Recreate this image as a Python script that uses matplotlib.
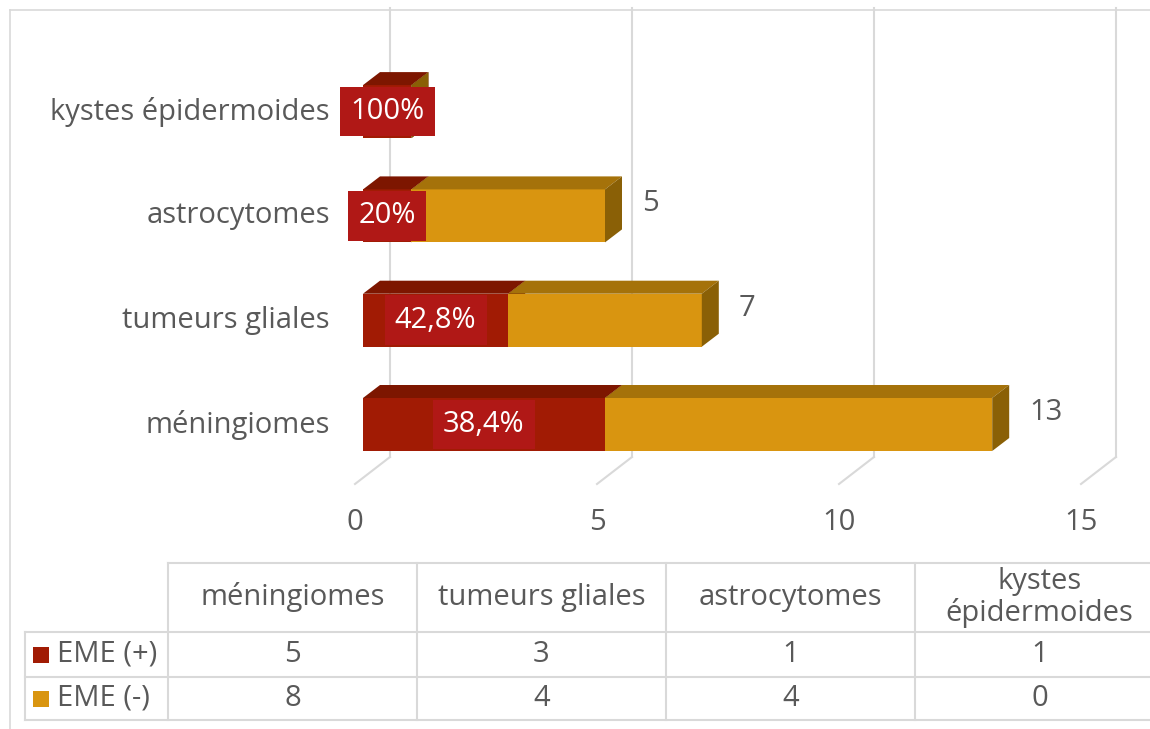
import matplotlib.pyplot as plt
from matplotlib.patches import Polygon

# ── données ──────────────────────────────────────────────────────────────
categories = ['méningiomes', 'tumeurs gliales', 'astrocytomes', 'kystes épidermoides']
eme_pos = [5, 3, 1, 1]
eme_neg = [8, 4, 4, 0]
pct_labels = ['38,4%', '42,8%', '20%', '100%']
x_ticks = [0, 5, 10, 15]
series_names = ['EME (+)', 'EME (-)']
table_headers = ['méningiomes', 'tumeurs gliales', 'astrocytomes', 'kystes\népidermoides']

# ── style ────────────────────────────────────────────────────────────────
RED = ('#A11B04', '#7D1600', '#6A1300')     # face, dessus, côté
GOLD = ('#D99510', '#A5720A', '#8A6006')
LABEL_BG = '#B01816'
TXT = '#595959'
GRID = '#D9D9D9'
FONT = 'Open Sans'
FS = 21

W, H = 1150, 729
fig = plt.figure(figsize=(W / 100, H / 100), dpi=100)

# axe plein cadre en pixels pour le tableau et le cadre
tb = fig.add_axes([0, 0, 1, 1])
tb.set_xlim(0, W)
tb.set_ylim(H, 0)
tb.axis('off')
tb.plot([10, W], [10, 10], color=GRID, lw=1.2)
tb.plot([10, 10], [10, H], color=GRID, lw=1.2)

# ── graphique 3D simulé ──────────────────────────────────────────────────
PX_X, PX_Y = 48.4, 104.3        # pixels par unité
X0, Y0 = 363, 424.5             # origine de la face avant
top_px, bot_px = 8, 490
ax = fig.add_axes([X0 / W, 1 - bot_px / H, 15 * PX_X / W, (bot_px - top_px) / H])
ax.set_xlim(0, 15)
ax.set_ylim((Y0 - bot_px) / PX_Y, (Y0 - top_px) / PX_Y)
ax.axis('off')

DX, DY = 17 / PX_X, 13 / PX_Y   # profondeur des barres
BH = 53 / PX_Y                  # épaisseur des barres
GDX = 27 / PX_X                 # plan du fond
FDX, FDY = -8 / PX_X, (Y0 - 484) / PX_Y
GY = (Y0 - 457) / PX_Y

# quadrillage : verticale au fond + diagonale du plancher
for v in x_ticks:
    ax.plot([v + GDX, v + GDX], [GY, ax.get_ylim()[1]], color=GRID, lw=1.5, clip_on=False, zorder=0)
    ax.plot([v + GDX, v + FDX], [GY, FDY], color=GRID, lw=1.5, clip_on=False, zorder=0)
    ax.text(v + FDX, (Y0 - 522) / PX_Y, str(v), ha='center', va='center',
            color=TXT, fontsize=FS, family=FONT)


def box3d(y, left, width, cols, z):
    a, b = left, left + width
    lo, hi = y - BH / 2, y + BH / 2
    ax.barh(y, width, left=left, height=BH, color=cols[0], lw=0, zorder=z, clip_on=False)
    ax.add_patch(Polygon([(a, hi), (b, hi), (b + DX, hi + DY), (a + DX, hi + DY)],
                         closed=True, fc=cols[1], lw=0, zorder=z, clip_on=False))
    ax.add_patch(Polygon([(b, lo), (b, hi), (b + DX, hi + DY), (b + DX, lo + DY)],
                         closed=True, fc=cols[2], lw=0, zorder=z, clip_on=False))


for i, cat in enumerate(categories):
    z = 10 - i
    box3d(i, 0, eme_pos[i], RED, z)
    box3d(i, eme_pos[i], eme_neg[i], GOLD, z)

    ax.text(-33 / PX_X, i, cat, ha='right', va='center', color=TXT, fontsize=FS, family=FONT)

    ax.text(eme_pos[i] / 2, i, pct_labels[i], ha='center', va='center', color='white',
            fontsize=FS, family=FONT, zorder=20,
            bbox=dict(boxstyle='square,pad=0.35', fc=LABEL_BG, ec='none'))

    total = eme_pos[i] + eme_neg[i]
    if eme_neg[i] > 0:
        ax.text(total + 37 / PX_X, i + 12 / PX_Y, str(total), ha='left', va='center',
                color=TXT, fontsize=FS, family=FONT)

# ── tableau de données ───────────────────────────────────────────────────
col_x = [168, 417, 666, 915, 1164]
row_y = [563, 632, 677, 720]
kw = dict(color=GRID, lw=1.5)
tb.plot([168, W], [row_y[0]] * 2, **kw)
for y in row_y[1:]:
    tb.plot([25, W], [y, y], **kw)
for x in col_x[:-1]:
    tb.plot([x, x], [row_y[0], row_y[-1]], **kw)
tb.plot([25, 25], [row_y[1], row_y[-1]], **kw)

for j, head in enumerate(table_headers):
    cx = (col_x[j] + col_x[j + 1]) / 2
    tb.text(cx, (row_y[0] + row_y[1]) / 2, head, ha='center', va='center',
            color=TXT, fontsize=FS, family=FONT, linespacing=1.05)
    for r, vals in enumerate([eme_pos, eme_neg]):
        tb.text(cx, (row_y[r + 1] + row_y[r + 2]) / 2, str(vals[j]), ha='center',
                va='center', color=TXT, fontsize=FS, family=FONT)

for r, (name, cols) in enumerate(zip(series_names, [RED, GOLD])):
    cy = (row_y[r + 1] + row_y[r + 2]) / 2
    tb.scatter([41], [cy], marker='s', s=120, color=cols[0], lw=0)
    tb.text(57, cy, name, ha='left', va='center', color=TXT, fontsize=FS, family=FONT)

fig.savefig('out.png', dpi=100)
